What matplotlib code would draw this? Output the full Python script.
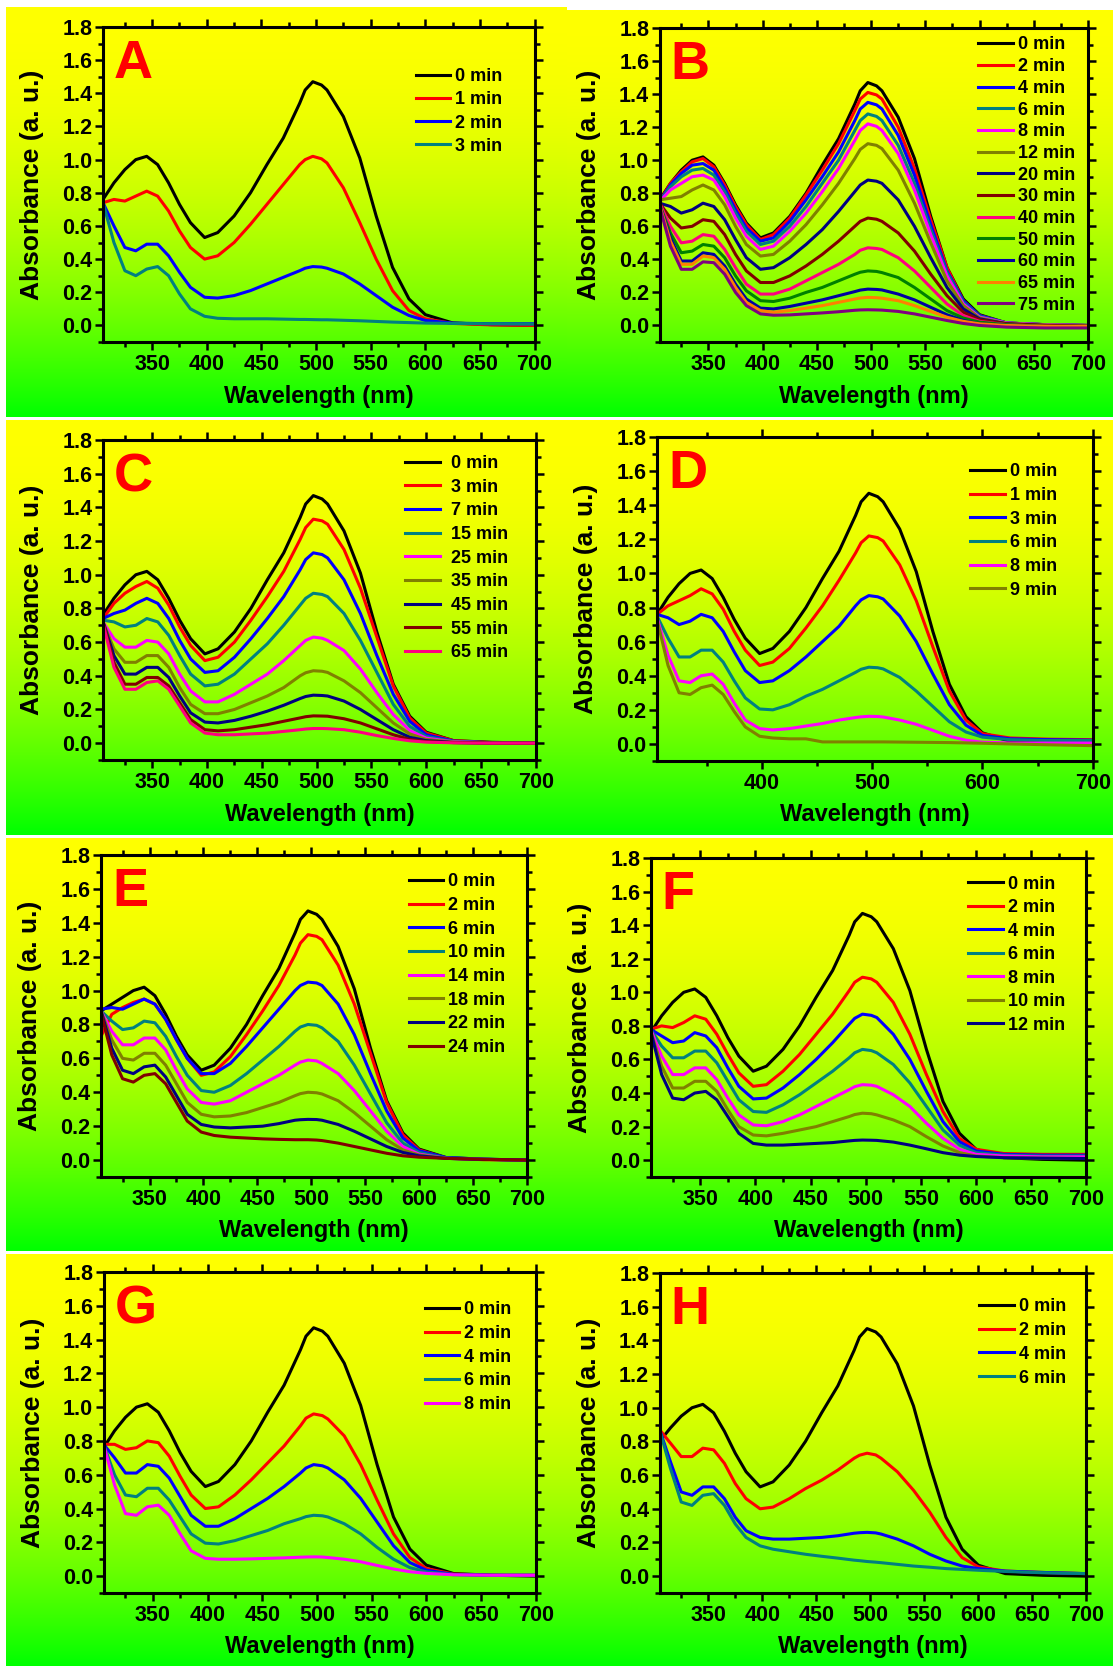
import numpy as np
import matplotlib.pyplot as plt
from matplotlib.ticker import MultipleLocator

plt.rcParams['font.family'] = ['Liberation Sans', 'DejaVu Sans']
plt.rcParams['font.weight'] = 'bold'

# wavelength grid (nm) on which the curves were read
wl = [305, 315, 325, 335, 345, 355, 365, 375, 385, 398, 410, 425, 440, 455,
      470, 485, 490, 497, 505, 510, 525, 540, 555, 570, 585, 600, 625, 660, 700]

# 0 min spectrum of the dye
dye_0min = [0.76, 0.86, 0.94, 1.00, 1.02, 0.97, 0.86, 0.73, 0.62, 0.53, 0.56, 0.66, 0.80, 0.97,
            1.13, 1.34, 1.42, 1.47, 1.45, 1.42, 1.26, 1.01, 0.66, 0.35, 0.16, 0.065, 0.015, 0.005, 0.0]
e_0min = [0.88, 0.92, 0.96, 1.00, 1.02, 0.97, 0.86, 0.73, 0.62, 0.53, 0.56, 0.66, 0.80, 0.97,
          1.13, 1.34, 1.42, 1.47, 1.45, 1.42, 1.26, 1.01, 0.66, 0.35, 0.16, 0.065, 0.015, 0.005, 0.0]
h_0min = [0.80, 0.88, 0.95, 1.00, 1.02, 0.97, 0.86, 0.73, 0.62, 0.53, 0.56, 0.66, 0.80, 0.97,
          1.13, 1.34, 1.42, 1.47, 1.45, 1.42, 1.26, 1.01, 0.66, 0.35, 0.16, 0.065, 0.015, 0.005, 0.0]

# panel A
a_1min = [0.74, 0.76, 0.75, 0.78, 0.81, 0.78, 0.69, 0.57, 0.47, 0.40, 0.42, 0.50, 0.61, 0.73,
          0.85, 0.97, 1.00, 1.02, 1.005, 0.98, 0.83, 0.62, 0.40, 0.21, 0.09, 0.04, 0.012, 0.003, 0.0]
a_2min = [0.74, 0.60, 0.47, 0.45, 0.49, 0.49, 0.42, 0.32, 0.23, 0.17, 0.165, 0.18, 0.21, 0.25,
          0.29, 0.33, 0.345, 0.355, 0.352, 0.345, 0.31, 0.25, 0.18, 0.11, 0.06, 0.03, 0.014, 0.01, 0.01]
a_3min = [0.74, 0.50, 0.33, 0.30, 0.34, 0.355, 0.30, 0.19, 0.10, 0.055, 0.043, 0.04, 0.04, 0.04,
          0.038, 0.036, 0.036, 0.035, 0.034, 0.034, 0.031, 0.028, 0.024, 0.02, 0.017, 0.014, 0.012, 0.01, 0.008]

# panel B
b_2min = [0.75, 0.86, 0.93, 0.99, 1.01, 0.96, 0.85, 0.72, 0.61, 0.52, 0.55, 0.65, 0.79, 0.94,
          1.10, 1.30, 1.37, 1.41, 1.395, 1.37, 1.20, 0.95, 0.64, 0.35, 0.15, 0.06, 0.015, 0.005, 0.0]
b_4min = [0.75, 0.85, 0.92, 0.97, 0.98, 0.94, 0.83, 0.70, 0.59, 0.51, 0.53, 0.63, 0.76, 0.90,
          1.05, 1.24, 1.31, 1.35, 1.335, 1.31, 1.15, 0.91, 0.61, 0.33, 0.15, 0.06, 0.015, 0.005, 0.0]
b_6min = [0.75, 0.84, 0.90, 0.94, 0.95, 0.91, 0.81, 0.68, 0.57, 0.49, 0.51, 0.60, 0.72, 0.86,
          1.00, 1.18, 1.24, 1.28, 1.265, 1.24, 1.09, 0.86, 0.58, 0.32, 0.14, 0.055, 0.015, 0.005, 0.0]
b_8min = [0.75, 0.82, 0.86, 0.90, 0.91, 0.88, 0.78, 0.65, 0.54, 0.46, 0.48, 0.57, 0.68, 0.81,
          0.95, 1.12, 1.18, 1.22, 1.205, 1.18, 1.04, 0.82, 0.55, 0.30, 0.13, 0.05, 0.015, 0.005, 0.0]
b_12min = [0.76, 0.77, 0.78, 0.82, 0.85, 0.82, 0.73, 0.60, 0.49, 0.42, 0.43, 0.51, 0.61, 0.73,
           0.86, 1.01, 1.065, 1.10, 1.09, 1.07, 0.94, 0.74, 0.50, 0.27, 0.12, 0.045, 0.012, 0.003, -0.002]
b_20min = [0.74, 0.72, 0.68, 0.70, 0.74, 0.72, 0.64, 0.52, 0.41, 0.34, 0.35, 0.41, 0.49, 0.58,
           0.69, 0.81, 0.85, 0.88, 0.873, 0.86, 0.76, 0.60, 0.41, 0.23, 0.10, 0.04, 0.01, 0.0, -0.005]
b_30min = [0.74, 0.65, 0.59, 0.60, 0.64, 0.63, 0.55, 0.43, 0.33, 0.26, 0.26, 0.30, 0.36, 0.43,
           0.51, 0.60, 0.63, 0.65, 0.643, 0.63, 0.56, 0.45, 0.31, 0.18, 0.08, 0.035, 0.01, 0.0, -0.005]
b_40min = [0.74, 0.60, 0.50, 0.51, 0.55, 0.54, 0.46, 0.35, 0.25, 0.19, 0.19, 0.22, 0.27, 0.32,
           0.37, 0.43, 0.455, 0.47, 0.466, 0.46, 0.41, 0.33, 0.23, 0.13, 0.06, 0.025, 0.005, -0.005, -0.01]
b_50min = [0.73, 0.56, 0.44, 0.45, 0.49, 0.48, 0.41, 0.30, 0.21, 0.15, 0.145, 0.165, 0.20, 0.23,
           0.27, 0.31, 0.322, 0.33, 0.327, 0.32, 0.29, 0.23, 0.16, 0.09, 0.045, 0.02, 0.005, -0.005, -0.01]
b_60min = [0.73, 0.53, 0.39, 0.39, 0.44, 0.43, 0.36, 0.25, 0.16, 0.105, 0.10, 0.115, 0.135, 0.155,
           0.18, 0.205, 0.214, 0.22, 0.218, 0.215, 0.19, 0.155, 0.11, 0.065, 0.03, 0.01, 0.0, -0.008, -0.012]
b_65min = [0.73, 0.51, 0.37, 0.37, 0.42, 0.41, 0.34, 0.23, 0.14, 0.09, 0.08, 0.09, 0.105, 0.12,
           0.14, 0.16, 0.166, 0.17, 0.168, 0.165, 0.15, 0.12, 0.085, 0.05, 0.025, 0.01, 0.0, -0.005, -0.005]
b_75min = [0.72, 0.48, 0.34, 0.34, 0.385, 0.38, 0.31, 0.20, 0.12, 0.07, 0.062, 0.064, 0.07, 0.076,
           0.083, 0.092, 0.094, 0.095, 0.094, 0.093, 0.085, 0.07, 0.05, 0.03, 0.012, 0.0, -0.01, -0.015, -0.015]

# panel C
c_3min = [0.74, 0.83, 0.89, 0.93, 0.96, 0.92, 0.82, 0.69, 0.58, 0.49, 0.51, 0.60, 0.73, 0.87,
          1.02, 1.21, 1.28, 1.33, 1.32, 1.30, 1.15, 0.92, 0.63, 0.34, 0.15, 0.06, 0.015, 0.003, 0.0]
c_7min = [0.74, 0.77, 0.79, 0.83, 0.86, 0.83, 0.74, 0.61, 0.50, 0.42, 0.43, 0.51, 0.62, 0.74,
          0.87, 1.03, 1.09, 1.13, 1.12, 1.10, 0.97, 0.77, 0.52, 0.29, 0.13, 0.05, 0.012, 0.002, 0.0]
c_15min = [0.73, 0.72, 0.69, 0.70, 0.74, 0.72, 0.64, 0.52, 0.41, 0.34, 0.35, 0.41, 0.50, 0.59,
           0.70, 0.82, 0.86, 0.89, 0.883, 0.87, 0.77, 0.61, 0.42, 0.23, 0.10, 0.04, 0.01, 0.002, 0.0]
c_25min = [0.72, 0.62, 0.57, 0.57, 0.61, 0.60, 0.53, 0.41, 0.31, 0.245, 0.245, 0.29, 0.35, 0.41,
           0.49, 0.58, 0.61, 0.63, 0.623, 0.61, 0.55, 0.44, 0.30, 0.17, 0.075, 0.03, 0.008, 0.002, 0.0]
c_35min = [0.72, 0.56, 0.48, 0.48, 0.52, 0.52, 0.45, 0.33, 0.23, 0.175, 0.175, 0.20, 0.24, 0.28,
           0.33, 0.40, 0.418, 0.43, 0.427, 0.42, 0.37, 0.30, 0.21, 0.12, 0.055, 0.022, 0.006, 0.001, 0.0]
c_45min = [0.72, 0.52, 0.41, 0.41, 0.45, 0.45, 0.39, 0.28, 0.18, 0.125, 0.12, 0.135, 0.16, 0.19,
           0.225, 0.265, 0.277, 0.285, 0.283, 0.28, 0.25, 0.20, 0.14, 0.08, 0.035, 0.015, 0.004, 0.0, 0.0]
c_55min = [0.72, 0.48, 0.35, 0.35, 0.39, 0.39, 0.34, 0.24, 0.14, 0.08, 0.073, 0.08, 0.095, 0.11,
           0.13, 0.15, 0.157, 0.162, 0.161, 0.16, 0.145, 0.12, 0.085, 0.05, 0.022, 0.01, 0.003, 0.0, 0.0]
c_65min = [0.71, 0.45, 0.32, 0.32, 0.36, 0.37, 0.32, 0.22, 0.12, 0.06, 0.05, 0.05, 0.055, 0.06,
           0.07, 0.08, 0.084, 0.087, 0.087, 0.086, 0.08, 0.065, 0.045, 0.028, 0.014, 0.006, 0.002, 0.0, 0.0]

# panel D
d_1min = [0.76, 0.81, 0.84, 0.87, 0.91, 0.88, 0.79, 0.66, 0.55, 0.46, 0.48, 0.56, 0.68, 0.81,
          0.96, 1.12, 1.18, 1.22, 1.21, 1.19, 1.05, 0.84, 0.57, 0.31, 0.14, 0.06, 0.035, 0.028, 0.025]
d_3min = [0.76, 0.74, 0.70, 0.72, 0.76, 0.74, 0.66, 0.54, 0.43, 0.36, 0.37, 0.43, 0.51, 0.60,
          0.69, 0.81, 0.845, 0.87, 0.863, 0.85, 0.75, 0.60, 0.41, 0.23, 0.11, 0.05, 0.03, 0.025, 0.022]
d_6min = [0.75, 0.62, 0.51, 0.51, 0.55, 0.55, 0.48, 0.37, 0.27, 0.205, 0.20, 0.23, 0.28, 0.32,
          0.37, 0.42, 0.438, 0.45, 0.447, 0.44, 0.39, 0.31, 0.22, 0.13, 0.07, 0.04, 0.025, 0.02, 0.02]
d_8min = [0.74, 0.52, 0.37, 0.36, 0.40, 0.41, 0.35, 0.24, 0.14, 0.09, 0.082, 0.09, 0.105, 0.12,
          0.14, 0.155, 0.159, 0.162, 0.161, 0.158, 0.14, 0.115, 0.08, 0.045, 0.022, 0.01, 0.006, 0.005, 0.005]
d_9min = [0.73, 0.46, 0.30, 0.29, 0.33, 0.345, 0.29, 0.19, 0.10, 0.045, 0.035, 0.03, 0.03, 0.012,
          0.012, 0.012, 0.012, 0.012, 0.012, 0.012, 0.011, 0.01, 0.009, 0.008, 0.006, 0.004, 0.0, -0.005, -0.01]

# panel E
e_2min = [0.73, 0.86, 0.90, 0.93, 0.95, 0.92, 0.83, 0.71, 0.60, 0.50, 0.52, 0.61, 0.74, 0.88,
          1.03, 1.21, 1.28, 1.33, 1.32, 1.30, 1.15, 0.92, 0.63, 0.34, 0.15, 0.06, 0.012, 0.002, 0.0]
e_6min = [0.89, 0.90, 0.89, 0.92, 0.95, 0.92, 0.83, 0.71, 0.60, 0.51, 0.51, 0.57, 0.67, 0.78,
          0.89, 1.00, 1.03, 1.05, 1.045, 1.03, 0.92, 0.74, 0.51, 0.29, 0.13, 0.055, 0.015, 0.005, 0.0]
e_10min = [0.88, 0.82, 0.77, 0.78, 0.82, 0.81, 0.73, 0.61, 0.50, 0.41, 0.40, 0.44, 0.51, 0.59,
           0.67, 0.76, 0.785, 0.80, 0.795, 0.78, 0.70, 0.56, 0.39, 0.22, 0.10, 0.045, 0.012, 0.005, 0.0]
e_14min = [0.88, 0.76, 0.68, 0.68, 0.72, 0.72, 0.65, 0.53, 0.42, 0.34, 0.33, 0.35, 0.40, 0.45,
           0.50, 0.56, 0.578, 0.59, 0.585, 0.57, 0.51, 0.41, 0.29, 0.17, 0.08, 0.035, 0.01, 0.004, 0.0]
e_18min = [0.88, 0.71, 0.60, 0.59, 0.63, 0.63, 0.56, 0.45, 0.34, 0.27, 0.255, 0.26, 0.28, 0.31,
           0.34, 0.38, 0.392, 0.40, 0.397, 0.39, 0.35, 0.28, 0.20, 0.12, 0.06, 0.03, 0.01, 0.004, 0.0]
e_22min = [0.88, 0.66, 0.53, 0.51, 0.55, 0.56, 0.49, 0.38, 0.27, 0.21, 0.195, 0.19, 0.195, 0.20,
           0.215, 0.235, 0.238, 0.24, 0.239, 0.235, 0.21, 0.17, 0.125, 0.08, 0.045, 0.025, 0.01, 0.004, 0.0]
e_24min = [0.87, 0.62, 0.48, 0.46, 0.50, 0.51, 0.45, 0.34, 0.23, 0.165, 0.145, 0.135, 0.13, 0.125,
           0.122, 0.12, 0.12, 0.12, 0.118, 0.115, 0.10, 0.08, 0.06, 0.04, 0.025, 0.017, 0.01, 0.004, 0.0]

# panel F
f_2min = [0.78, 0.80, 0.79, 0.82, 0.86, 0.84, 0.75, 0.63, 0.52, 0.44, 0.45, 0.53, 0.63, 0.75,
          0.87, 1.01, 1.06, 1.09, 1.08, 1.06, 0.94, 0.75, 0.51, 0.29, 0.13, 0.065, 0.04, 0.035, 0.035]
f_4min = [0.78, 0.74, 0.70, 0.71, 0.76, 0.74, 0.67, 0.55, 0.44, 0.365, 0.37, 0.43, 0.51, 0.60,
          0.70, 0.81, 0.845, 0.87, 0.863, 0.85, 0.75, 0.60, 0.41, 0.23, 0.11, 0.055, 0.035, 0.03, 0.03]
f_6min = [0.78, 0.68, 0.61, 0.61, 0.65, 0.65, 0.58, 0.47, 0.36, 0.29, 0.285, 0.33, 0.39, 0.46,
          0.53, 0.61, 0.64, 0.66, 0.653, 0.64, 0.57, 0.46, 0.32, 0.18, 0.09, 0.045, 0.03, 0.025, 0.025]
f_8min = [0.78, 0.62, 0.51, 0.51, 0.55, 0.55, 0.48, 0.37, 0.27, 0.21, 0.205, 0.23, 0.27, 0.32,
          0.37, 0.42, 0.438, 0.45, 0.447, 0.44, 0.39, 0.32, 0.22, 0.13, 0.065, 0.035, 0.025, 0.02, 0.02]
f_10min = [0.77, 0.56, 0.43, 0.43, 0.47, 0.47, 0.41, 0.30, 0.20, 0.15, 0.145, 0.16, 0.18, 0.20,
           0.23, 0.26, 0.272, 0.28, 0.277, 0.27, 0.24, 0.20, 0.14, 0.085, 0.045, 0.025, 0.015, 0.012, 0.01]
f_12min = [0.77, 0.51, 0.37, 0.36, 0.40, 0.41, 0.36, 0.26, 0.16, 0.10, 0.09, 0.09, 0.095, 0.10,
           0.105, 0.115, 0.118, 0.12, 0.119, 0.118, 0.108, 0.09, 0.068, 0.045, 0.03, 0.022, 0.015, 0.012, 0.01]

# panel G
g_2min = [0.78, 0.78, 0.75, 0.76, 0.80, 0.79, 0.71, 0.59, 0.48, 0.40, 0.41, 0.48, 0.57, 0.67,
          0.77, 0.89, 0.935, 0.96, 0.95, 0.93, 0.83, 0.66, 0.45, 0.25, 0.11, 0.045, 0.012, 0.005, 0.005]
g_4min = [0.78, 0.70, 0.61, 0.61, 0.66, 0.65, 0.58, 0.47, 0.36, 0.295, 0.295, 0.34, 0.40, 0.46,
          0.53, 0.61, 0.64, 0.66, 0.653, 0.64, 0.57, 0.46, 0.32, 0.18, 0.08, 0.035, 0.01, 0.005, 0.005]
g_6min = [0.78, 0.60, 0.48, 0.47, 0.52, 0.52, 0.45, 0.35, 0.25, 0.195, 0.19, 0.21, 0.24, 0.27,
          0.31, 0.34, 0.352, 0.36, 0.357, 0.35, 0.31, 0.25, 0.17, 0.10, 0.05, 0.025, 0.008, 0.005, 0.005]
g_8min = [0.78, 0.54, 0.37, 0.36, 0.41, 0.42, 0.36, 0.25, 0.15, 0.105, 0.10, 0.10, 0.102, 0.105,
          0.108, 0.112, 0.113, 0.114, 0.113, 0.11, 0.10, 0.085, 0.063, 0.042, 0.026, 0.016, 0.008, 0.005, 0.005]

# panel H
h_2min = [0.87, 0.79, 0.71, 0.71, 0.76, 0.75, 0.67, 0.55, 0.46, 0.40, 0.41, 0.46, 0.52, 0.57,
          0.63, 0.70, 0.718, 0.73, 0.72, 0.70, 0.62, 0.51, 0.38, 0.23, 0.11, 0.055, 0.03, 0.022, 0.015]
h_4min = [0.87, 0.68, 0.50, 0.48, 0.53, 0.53, 0.46, 0.35, 0.27, 0.23, 0.22, 0.22, 0.225, 0.23,
          0.24, 0.255, 0.258, 0.26, 0.257, 0.25, 0.22, 0.18, 0.13, 0.09, 0.06, 0.045, 0.03, 0.022, 0.015]
h_6min = [0.87, 0.64, 0.44, 0.42, 0.48, 0.49, 0.42, 0.31, 0.23, 0.18, 0.16, 0.145, 0.13, 0.118,
          0.107, 0.095, 0.092, 0.087, 0.083, 0.08, 0.07, 0.06, 0.053, 0.045, 0.04, 0.035, 0.028, 0.02, 0.015]

labels_a = ['0 min', '1 min', '2 min', '3 min']
labels_b = ['0 min', '2 min', '4 min', '6 min', '8 min', '12 min', '20 min', '30 min',
            '40 min', '50 min', '60 min', '65 min', '75 min']
labels_c = ['0 min', '3 min', '7 min', '15 min', '25 min', '35 min', '45 min', '55 min', '65 min']
labels_d = ['0 min', '1 min', '3 min', '6 min', '8 min', '9 min']
labels_e = ['0 min', '2 min', '6 min', '10 min', '14 min', '18 min', '22 min', '24 min']
labels_f = ['0 min', '2 min', '4 min', '6 min', '8 min', '10 min', '12 min']
labels_g = ['0 min', '2 min', '4 min', '6 min', '8 min']
labels_h = ['0 min', '2 min', '4 min', '6 min']

curves_a = [dye_0min, a_1min, a_2min, a_3min]
curves_b = [dye_0min, b_2min, b_4min, b_6min, b_8min, b_12min, b_20min, b_30min,
            b_40min, b_50min, b_60min, b_65min, b_75min]
curves_c = [dye_0min, c_3min, c_7min, c_15min, c_25min, c_35min, c_45min, c_55min, c_65min]
curves_d = [dye_0min, d_1min, d_3min, d_6min, d_8min, d_9min]
curves_e = [e_0min, e_2min, e_6min, e_10min, e_14min, e_18min, e_22min, e_24min]
curves_f = [dye_0min, f_2min, f_4min, f_6min, f_8min, f_10min, f_12min]
curves_g = [dye_0min, g_2min, g_4min, g_6min, g_8min]
curves_h = [h_0min, h_2min, h_4min, h_6min]

cols = ['#000000', '#FF0000', '#0000FF', '#008080', '#FF00FF', '#808000',
        '#000080', '#800000', '#FF0080']
cols_b = ['#000000', '#FF0000', '#0000FF', '#008080', '#FF00FF', '#808000', '#000080',
          '#800000', '#FF0080', '#008000', '#0000A0', '#FF8000', '#800080']

W, H = 1113, 1666
fig = plt.figure(figsize=(W / 100, H / 100), dpi=100, facecolor='white')


def rect(l, t, r, b):
    return [l / W, 1 - b / H, (r - l) / W, (b - t) / H]


# letter, background box, axes box (px), curves, labels, colours,
# legend anchor, label spacing, handle-text pad, major x step
panels = [
    ('A', (6, 7, 567, 417), (103, 27, 534.6, 342), curves_a, labels_a, cols, (0.725, 0.869), 0.34, 0.28, 50),
    ('B', (567, 10, 1113, 417), (659.6, 28, 1088, 342), curves_b, labels_b, cols_b, (0.744, 0.973), 0.26, 0.28, 50),
    ('C', (6, 420, 567, 835), (103, 440, 535.7, 760), curves_c, labels_c, cols, (0.699, 0.953), 0.37, 0.61, 50),
    ('D', (567, 420, 1113, 835), (657, 437, 1092.8, 761), curves_d, labels_d, cols, (0.719, 0.919), 0.37, 0.28, 100),
    ('E', (6, 838, 567, 1251), (101, 855, 526.8, 1177), curves_e, labels_e, cols, (0.723, 0.943), 0.37, 0.28, 50),
    ('F', (567, 838, 1113, 1251), (650.6, 858, 1086.4, 1177), curves_f, labels_f, cols, (0.729, 0.945), 0.36, 0.28, 50),
    ('G', (6, 1254, 567, 1666), (103.6, 1272, 535.7, 1593), curves_g, labels_g, cols, (0.744, 0.909), 0.37, 0.28, 50),
    ('H', (567, 1254, 1113, 1666), (659.6, 1273, 1086.4, 1593), curves_h, labels_h, cols, (0.749, 0.922), 0.38, 0.28, 50),
]

grad = np.zeros((300, 1, 3))
t = np.linspace(0, 1, 300)
grad[:, 0, 0] = 1 - t ** 2
grad[:, 0, 1] = 1.0

for letter, bg, box, curves, labels, colors, leg_xy, lsp, htp, xstep in panels:
    bax = fig.add_axes(rect(*bg), zorder=0)
    bax.imshow(grad, aspect='auto', extent=[0, 1, 0, 1], origin='upper')
    bax.axis('off')

    ax = fig.add_axes(rect(*box), zorder=1)
    ax.set_facecolor('none')
    for y, c, lab in zip(curves, colors, labels):
        ax.plot(wl, y, color=c, lw=2.2, label=lab, solid_joinstyle='round')

    ax.set_xlim(305, 700)
    ax.set_ylim(-0.1, 1.8)
    ax.xaxis.set_major_locator(MultipleLocator(xstep))
    ax.xaxis.set_minor_locator(MultipleLocator(xstep / 2))
    ax.yaxis.set_major_locator(MultipleLocator(0.2))
    ax.yaxis.set_minor_locator(MultipleLocator(0.1))
    ax.yaxis.set_major_formatter(plt.FuncFormatter(lambda v, p: '%.1f' % v))
    for s in ax.spines.values():
        s.set_linewidth(2.2)
    ax.tick_params(which='both', direction='out', width=1.8, top=True, right=True,
                   labeltop=False, labelright=False)
    ax.tick_params(which='major', length=6, labelsize=15.5)
    ax.tick_params(which='minor', length=3.5)
    ax.tick_params(axis='y', which='major', pad=1.5)
    ax.tick_params(axis='x', which='major', pad=2.5)

    wpx = box[2] - box[0]
    hpx = box[3] - box[1]
    ax.set_xlabel('Wavelength (nm)', fontsize=17, fontweight='bold')
    ax.xaxis.set_label_coords(0.5, -42.5 / hpx)
    ax.set_ylabel('Absorbance (a. u.)', fontsize=19, fontweight='bold')
    ax.yaxis.set_label_coords(-59 / wpx, 0.5)

    ax.text(11 / wpx, 1 - 51 / hpx, letter, transform=ax.transAxes, color='#FF0000',
            fontsize=39, fontweight='bold', va='baseline', ha='left')

    ax.legend(loc='upper left', bbox_to_anchor=leg_xy, frameon=False, borderpad=0,
              borderaxespad=0, handlelength=1.9, handletextpad=htp, labelspacing=lsp,
              prop={'weight': 'bold', 'size': 13})

fig.savefig('out.png', dpi=100, facecolor='white')
